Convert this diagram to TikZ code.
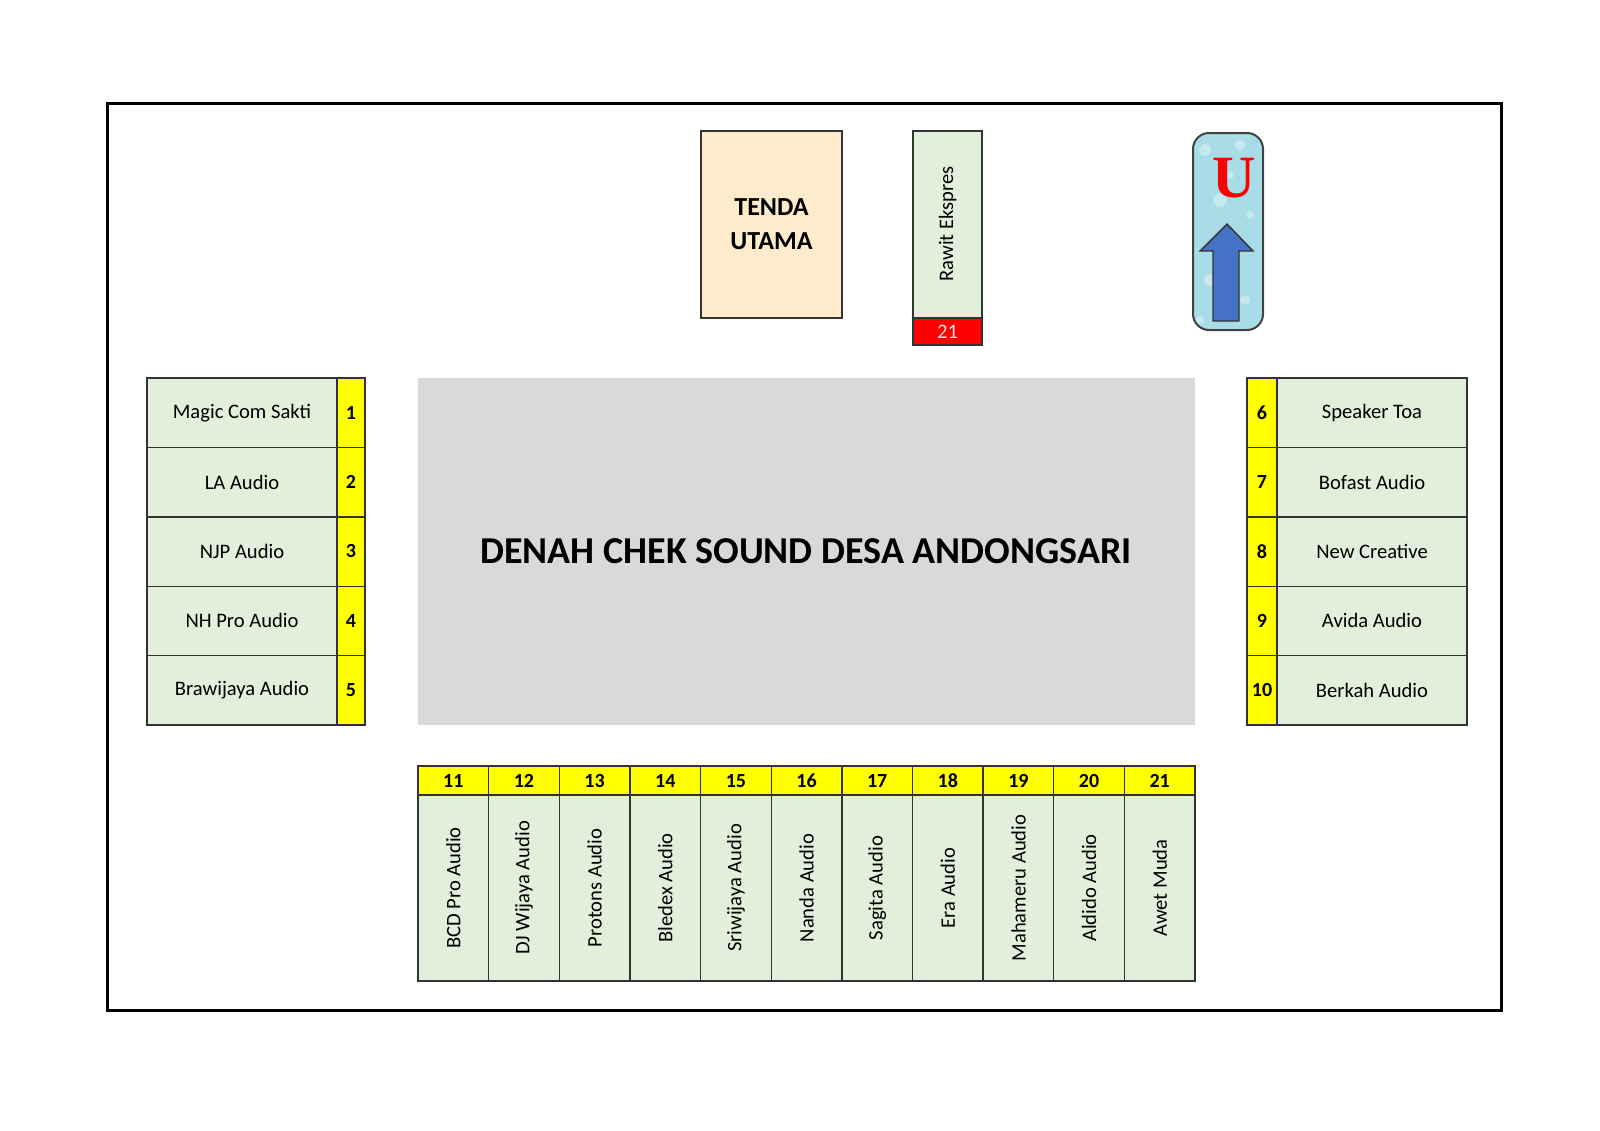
\documentclass[tikz,border=0pt]{standalone}
\usepackage{fontspec}
\setmainfont{Carlito}
\newfontfamily\ufont{Liberation Serif}
\definecolor{gbox}{HTML}{E2EFDA}
\definecolor{ybox}{HTML}{FFFF00}
\definecolor{tenda}{HTML}{FDEBCB}
\definecolor{gray1}{HTML}{D9D9D9}
\definecolor{ice}{HTML}{A8DCE6}
\definecolor{arrowb}{HTML}{4472C4}
\begin{document}
\begin{tikzpicture}[x=0.5pt,y=-0.5pt,
  cell/.style={draw=black!80,line width=0.7pt},
  lbl/.style={font=\fontsize{10.3}{12}\selectfont},
  num/.style={font=\bfseries\fontsize{10}{12}\selectfont}]
\useasboundingbox (0,0) rectangle (1600,1130);
\draw[line width=1.5pt] (107,103) rectangle (1501,1010);
% tenda
\draw[cell,fill=tenda] (701,131) rectangle (842,318);
\node[font=\bfseries\fontsize{13}{17}\selectfont,align=center] (tenda) at (771.5,224) {TENDA\\UTAMA};
% rawit
\draw[cell,fill=gbox] (913,131) rectangle (982,318);
\draw[cell,fill=red] (913,318) rectangle (982,345);
\node[lbl,rotate=90] (rawit) at (947.5,224) {Rawit Ekspres};
\node[lbl,text=white!90!black] (r21) at (947.5,332) {21};
% north box
\draw[draw=black!75,line width=1pt,fill=ice,rounded corners=8pt] (1193,133) rectangle (1263,330);
\foreach \p/\q/\r in {1205/150/6,1240/145/5,1220/200/7,1250/215/4,1210/280/6,1245/300/5,1200/320/4,1230/175/4}
  \fill[white,opacity=0.35] (\p,\q) circle (\r);
\draw[draw=black!80,fill=arrowb,line width=0.7pt] (1213,321) -- (1213,251) -- (1200,251) -- (1227,224) -- (1253,251) -- (1239,251) -- (1239,321) -- cycle;
\node[text=red,font=\ufont\bfseries\fontsize{30}{30}\selectfont] (u) at (1234,178) {U};
% center
\fill[gray1] (418,378) rectangle (1195,725);
\node[font=\bfseries\fontsize{19}{22}\selectfont] (title) at (806,551) {DENAH CHEK SOUND DESA ANDONGSARI};
% left
\foreach [count=\i] \t in {Magic Com Sakti,LA Audio,NJP Audio,NH Pro Audio,Brawijaya Audio}{
  \pgfmathsetmacro\ya{378+69.4*(\i-1)}
  \pgfmathsetmacro\yb{378+69.4*\i}
  \draw[cell,fill=gbox] (147,\ya) rectangle (337,\yb);
  \draw[cell,fill=ybox] (337,\ya) rectangle (365,\yb);
  \node[lbl] (l\i) at (242,{(\ya+\yb)/2}) {\t};
  \node[num] (ln\i) at (351,{(\ya+\yb)/2}) {\i};
}
% right
\foreach [count=\i] \t in {Speaker Toa,Bofast Audio,New Creative,Avida Audio,Berkah Audio}{
  \pgfmathsetmacro\ya{378+69.4*(\i-1)}
  \pgfmathsetmacro\yb{378+69.4*\i}
  \pgfmathtruncatemacro\n{\i+5}
  \draw[cell,fill=ybox] (1247,\ya) rectangle (1277,\yb);
  \draw[cell,fill=gbox] (1277,\ya) rectangle (1467,\yb);
  \node[lbl] (r\i) at (1372,{(\ya+\yb)/2}) {\t};
  \node[num] (rn\i) at (1262,{(\ya+\yb)/2}) {\n};
}
% bottom
\foreach [count=\i] \t in {BCD Pro Audio,DJ Wijaya Audio,Protons Audio,Bledex Audio,Sriwijaya Audio,Nanda Audio,Sagita Audio,Era Audio,Mahameru Audio,Aldido Audio,Awet Muda}{
  \pgfmathsetmacro\xa{418+70.64*(\i-1)}
  \pgfmathsetmacro\xb{418+70.64*\i}
  \pgfmathtruncatemacro\n{\i+10}
  \draw[cell,fill=ybox] (\xa,766) rectangle (\xb,795);
  \draw[cell,fill=gbox] (\xa,795) rectangle (\xb,981);
  \node[num] (bn\i) at ({(\xa+\xb)/2},781) {\n};
  \node[lbl,rotate=90] (b\i) at ({(\xa+\xb)/2},888) {\t};
}
\end{tikzpicture}
\end{document}
